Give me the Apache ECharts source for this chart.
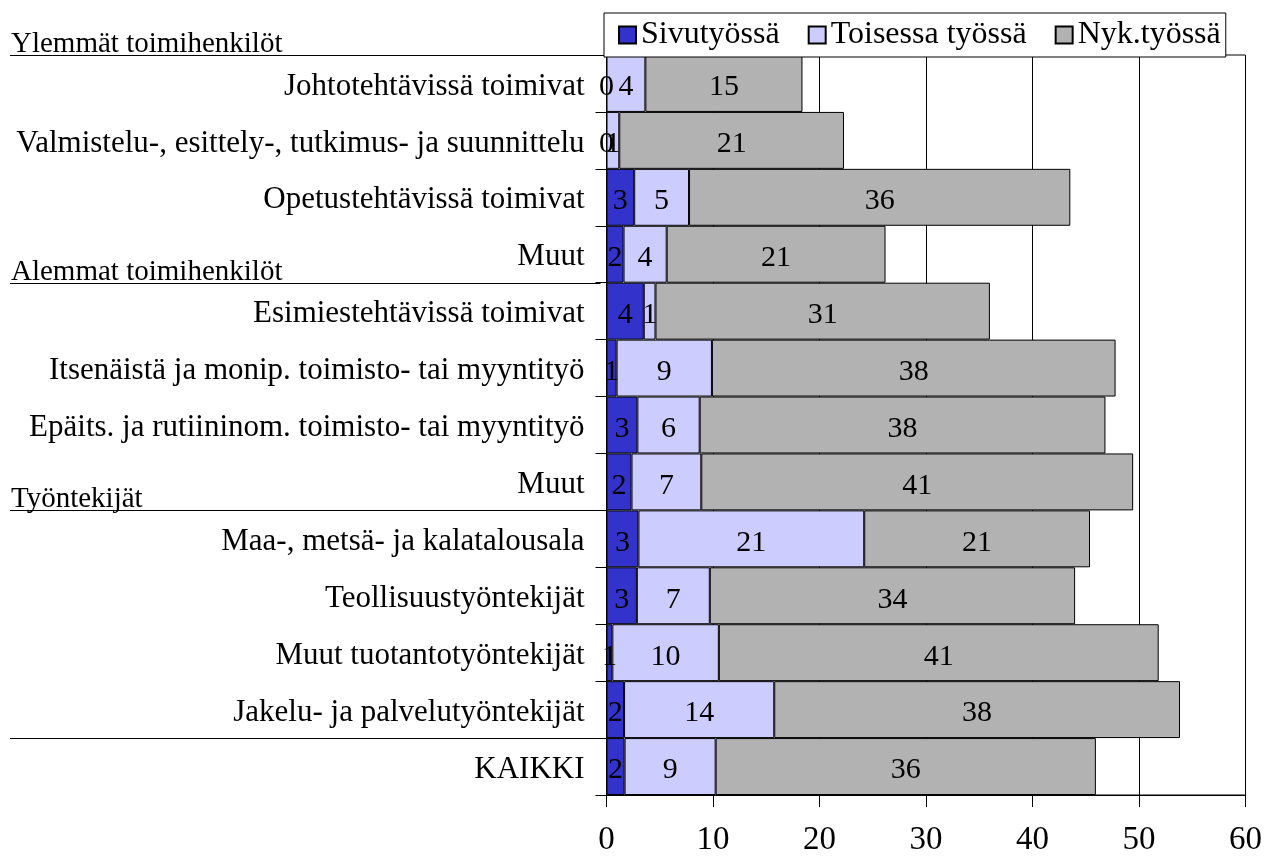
<!DOCTYPE html>
<html>
<head>
<meta charset="utf-8">
<script src="https://cdn.jsdelivr.net/npm/echarts@6/dist/echarts.min.js"></script>
<style>
html,body{margin:0;padding:0;background:#fff;}
#c{width:1265px;height:858px;}
</style>
</head>
<body>
<div id="c"></div>
<script>
// ---- data ----
const categories = [
  'Johtotehtävissä toimivat',
  'Valmistelu-, esittely-, tutkimus- ja suunnittelu',
  'Opetustehtävissä toimivat',
  'Muut',
  'Esimiestehtävissä toimivat',
  'Itsenäistä ja monip. toimisto- tai myyntityö',
  'Epäits. ja rutiininom. toimisto- tai myyntityö',
  'Muut',
  'Maa-, metsä- ja kalatalousala',
  'Teollisuustyöntekijät',
  'Muut tuotantotyöntekijät',
  'Jakelu- ja palvelutyöntekijät',
  'KAIKKI'
];
const seriesNames = ['Sivutyössä', 'Toisessa työssä', 'Nyk.työssä'];
const sivutyossa = [0, 0, 2.6, 1.6, 3.5, 0.95, 2.9, 2.35, 3.0, 2.85, 0.55, 1.65, 1.7];
const toisessaTyossa = [3.65, 1.2, 5.15, 4.05, 1.1, 8.95, 5.85, 6.55, 21.2, 6.85, 10.0, 14.1, 8.55];
const nykTyossa = [14.75, 21.1, 35.8, 20.55, 31.4, 37.9, 38.1, 40.55, 21.2, 34.3, 41.3, 38.1, 35.7];
const xTicks = [0, 10, 20, 30, 40, 50, 60];
const groupHeaders = [
  { before: 0, text: 'Ylemmät toimihenkilöt' },
  { before: 4, text: 'Alemmat toimihenkilöt' },
  { before: 8, text: 'Työntekijät' },
  { before: 12, text: '' }
];

// ---- chart ----
const FONT = '"Liberation Serif", "Times New Roman", serif';
const colors = ['#3333CC', '#CCCCFF', '#B2B2B2'];
const chart = echarts.init(document.getElementById('c'), null, { renderer: 'canvas' });

function makeSeries(name, data, color) {
  return {
    name: name,
    type: 'bar',
    stack: 'total',
    data: data,
    barCategoryGap: 0,
    itemStyle: { color: color, borderColor: '#000', borderWidth: 1 },
    label: {
      show: true,
      position: 'inside',
      offset: [0, 4],
      color: '#000',
      fontFamily: FONT,
      fontSize: 30,
      formatter: p => String(Math.round(p.value))
    },
    emphasis: { disabled: true },
    animation: false
  };
}

const option = {
  animation: false,
  backgroundColor: '#fff',
  color: colors,
  legend: {
    data: seriesNames,
    left: 604,
    top: 13,
    padding: [5, 5, 5, 14],
    itemGap: 28,
    itemWidth: 17,
    itemHeight: 17,
    backgroundColor: '#fff',
    borderColor: '#000',
    borderWidth: 1,
    icon: 'rect',
    textStyle: { fontFamily: FONT, fontSize: 32, lineHeight: 34, color: '#000' },
    z: 10
  },
  grid: {
    left: 606.5,
    right: 19,
    top: 55,
    bottom: 63,
    show: true,
    borderColor: '#000',
    borderWidth: 1,
    backgroundColor: 'transparent'
  },
  xAxis: {
    type: 'value',
    min: xTicks[0],
    max: xTicks[xTicks.length - 1],
    interval: 10,
    axisLine: { show: true, lineStyle: { color: '#000', width: 1 } },
    axisTick: { show: true, length: 12, lineStyle: { color: '#000' } },
    axisLabel: { color: '#000', fontFamily: FONT, fontSize: 33, margin: 29 },
    splitLine: { show: true, lineStyle: { color: '#000', width: 1 } }
  },
  yAxis: {
    type: 'category',
    inverse: true,
    data: categories.map((c, i) => String(i)),
    axisLine: { show: true, lineStyle: { color: '#000', width: 1 } },
    axisTick: { show: true, length: 11, lineStyle: { color: '#000' } },
    axisLabel: {
      color: '#000',
      fontFamily: FONT,
      fontSize: 31,
      margin: 22,
      formatter: v => '{t|' + categories[+v] + '}',
      rich: {
        t: { fontFamily: FONT, fontSize: 31, color: '#000', padding: [6, 0, 0, 0] }
      }
    },
    splitLine: { show: false }
  },
  series: [
    makeSeries(seriesNames[0], sivutyossa, colors[0]),
    makeSeries(seriesNames[1], toisessaTyossa, colors[1]),
    makeSeries(seriesNames[2], nykTyossa, colors[2])
  ]
};
chart.setOption(option);

// group header lines and texts, positioned from the category axis
function drawHeaders() {
  const c0 = chart.convertToPixel({ yAxisIndex: 0 }, '0');
  const c1 = chart.convertToPixel({ yAxisIndex: 0 }, '1');
  const band = c1 - c0;
  const axisX = chart.convertToPixel({ xAxisIndex: 0 }, 0);
  const elems = [];
  groupHeaders.forEach(h => {
    const yc = chart.convertToPixel({ yAxisIndex: 0 }, String(h.before));
    const y = Math.round(yc - band / 2) + 0.5;
    elems.push({
      type: 'line',
      shape: { x1: 10, y1: y, x2: axisX - 6, y2: y },
      style: { stroke: '#000', lineWidth: 1.2 },
      silent: true
    });
    if (h.text) {
      elems.push({
        type: 'text',
        x: 11,
        y: y + 3,
        style: {
          text: h.text,
          fill: '#000',
          font: '29px ' + FONT,
          textAlign: 'left',
          textVerticalAlign: 'bottom'
        },
        silent: true
      });
    }
  });
  chart.setOption({ graphic: { elements: elems } });
}
drawHeaders();
</script>
</body>
</html>
